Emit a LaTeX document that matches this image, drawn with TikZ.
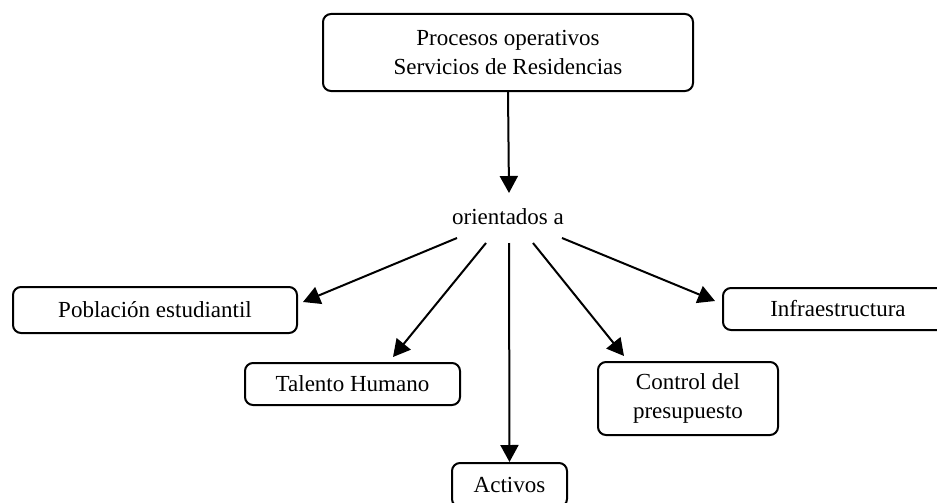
\documentclass[tikz,border=0pt]{standalone}
\usepackage{fontspec}
\setmainfont{Liberation Serif}
\usetikzlibrary{arrows.meta}
\begin{document}
\begin{tikzpicture}[x=1pt,y=-1pt,
  box/.style={draw,line width=2pt,rounded corners=8pt,inner sep=0pt,align=center,font=\fontsize{23}{29}\selectfont},
  lbl/.style={inner sep=0pt,font=\fontsize{23}{29}\selectfont},
  arr/.style={line width=2pt,-{Triangle[length=17pt,width=18pt]}}]
\useasboundingbox (0,0) rectangle (937,503);
\node[box,minimum width=370pt,minimum height=77pt] (top) at (508,52.5) {Procesos operativos\\Servicios de Residencias};
\node[lbl] (ori) at (508,217) {orientados a};
\node[box,minimum width=284pt,minimum height=46pt] (pob) at (155,310) {Población estudiantil};
\node[box,minimum width=215pt,minimum height=42pt] (tal) at (352.5,384) {Talento Humano};
\node[box,minimum width=115pt,minimum height=44pt] (act) at (509.5,485) {Activos};
\node[box,minimum width=180pt,minimum height=73pt] (con) at (688,398.5) {Control del\\presupuesto};
\node[box,minimum width=230pt,minimum height=42pt] (inf) at (838,309) {Infraestructura};
\coordinate (t0) at (509,193);
\coordinate (s1) at (457,238);
\coordinate (s2) at (486,243);
\coordinate (s3) at (509,243);
\coordinate (s4) at (533,243);
\coordinate (s5) at (562,238);
\draw[arr] (top.south) -- (t0);
\draw[arr] (s1) -- ([shift={(5,-8)}]pob.east);
\draw[arr] (s2) -- ([shift={(40.5,-5)}]tal.north);
\draw[arr] (s3) -- (act.north);
\draw[arr] (s4) -- ([shift={(27,-5)}]con.north west);
\draw[arr] (s5) -- ([shift={(-7,14)}]inf.north west);
\end{tikzpicture}
\end{document}
